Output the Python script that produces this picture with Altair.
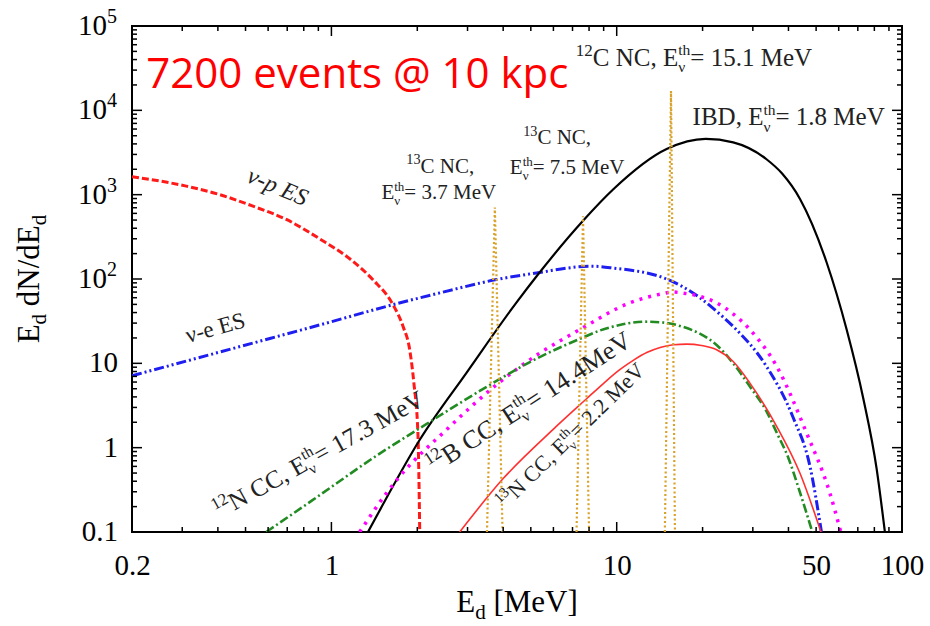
import altair as alt
import pandas as pd

# ---------------- data ----------------
# nu-p elastic scattering (red dashed)
nup_E = [0.2, 0.31, 0.405, 0.531, 0.695, 0.909, 1.19, 1.398, 1.644, 1.782, 1.881, 1.945, 2.01, 2.04]
nup_N = [1632, 1262, 1004, 730, 508, 300, 162, 98, 49.6, 27.5, 14.5, 5.9, 1.48, 0.1]
# nu-e elastic scattering (blue dash-dot-dot)
nue_E = [0.2, 0.531, 0.909, 1.644, 2.397, 3.79, 5.23, 8.2, 9.71, 14.96, 19.56, 22.4, 25.6, 33.5, 41.4, 47.6, 52.2]
nue_N = [7.13, 17.4, 28.5, 49.6, 68.4, 98.4, 118, 142, 135, 100, 60, 41.3, 27.4, 9.18, 2.34, 0.596, 0.1]
# IBD (black solid)
ibd_E = [1.343, 1.476, 2.04, 2.97, 4.45, 5.23, 7.62, 9.71, 14.96, 20.5, 25.6, 33.5, 38.0, 43.9, 54.4, 64.0, 73.2, 81.5, 87.1]
ibd_N = [0.1, 0.18, 1.24, 7.67, 52.5, 107, 490, 1150, 3470, 4580, 4170, 2630, 1780, 890, 158, 25, 3.8, 0.56, 0.1]
# 12B CC (magenta dotted)
mag_E = [1.256, 1.559, 1.734, 2.53, 3.79, 5.37, 7.42, 11.1, 14.2, 15.7, 17.1, 22.4, 29.3, 36.4, 46.3, 55.9, 61.0]
mag_N = [0.1, 0.288, 0.454, 1.63, 5.57, 13.2, 25.1, 52, 66, 70, 68, 52, 25.1, 9.18, 1.49, 0.288, 0.1]
# 12N CC (green dash-dot)
grn_E = [0.591, 0.861, 1.476, 2.04, 3.31, 5.0, 7.42, 8.73, 10.5, 12.5, 14.5, 17.1, 19.56, 22.4, 25.6, 29.3, 33.5, 36.4, 40.0, 43.3, 48.5]
grn_N = [0.1, 0.24, 0.85, 1.7, 4.7, 10.5, 19.5, 24.5, 29.0, 31.2, 30.5, 27.0, 22.5, 16.5, 10.0, 5.3, 2.7, 1.5, 0.75, 0.34, 0.1]
# 13N CC (red solid)
rsol_E = [2.816, 4.0, 5.99, 7.84, 9.0, 10.25, 11.5, 12.8, 14.2, 15.8, 17.6, 19.8, 22.4, 25.6, 29.3, 36.4, 43.9, 52.0]
rsol_N = [0.1, 0.43, 1.65, 3.8, 5.8, 8.4, 11.0, 13.5, 15.4, 16.6, 16.9, 16.3, 14.5, 10.5, 5.83, 1.78, 0.497, 0.1]
# 13C / 12C NC gamma lines (gold dotted)
gA_E = [3.51, 3.74, 3.98]
gA_N = [0.1, 705, 0.1]
gB_E = [7.23, 7.62, 8.0]
gB_N = [0.1, 556, 0.1]
gC_E = [14.75, 15.5, 16.0]
gC_N = [0.1, 16950, 0.1]

# axis ticks and labels
x_tick_values = [0.2, 1, 10, 50, 100]
x_major_ticks = [1, 10]
x_minor_ticks = [0.3, 0.4, 0.5, 0.6, 0.7, 0.8, 0.9, 2, 3, 4, 5, 6, 7, 8, 9, 20, 30, 40, 50, 60, 70, 80, 90]
y_major_ticks = [1, 10, 100, 1000, 10000]
y_minor_ticks = [m * d for d in [0.1, 1, 10, 100, 1000, 10000] for m in range(2, 10)]
y_plain_values = [0.1, 1, 10]
y_plain_labels = ["0.1", "1", "10"]
y_exp_values = [100, 1000, 10000, 100000]
y_exp_powers = ["2", "3", "4", "5"]

# annotations: (E, N, angle, size, style, segments)
annotations = [
    (7.19, 33600, 0, 25, "normal", [("sup", "12"), ("n", "C NC, E"), ("ss", "th", "ν"), ("n", "= 15.1 MeV")]),
    (18.45, 6640, 0, 25, "normal", [("n", "IBD, E"), ("ss", "th", "ν"), ("n", "= 1.8 MeV")]),
    (4.70, 3945, 0, 21, "normal", [("sup", "13"), ("n", "C NC,")]),
    (4.22, 1738, 0, 21, "normal", [("n", "E"), ("ss", "th", "ν"), ("n", "= 7.5 MeV")]),
    (1.83, 1820, 0, 21, "normal", [("sup", "13"), ("n", "C NC,")]),
    (1.497, 877, 0, 21, "normal", [("n", "E"), ("ss", "th", "ν"), ("n", "= 3.7 MeV")]),
    (0.500, 1436, 23, 24, "italic", [("n", "ν-p ES")]),
    (0.314, 17.4, 344.5, 23, "normal", [("n", "ν-e ES")]),
    (0.405, 0.1426, 331, 25, "normal", [("sup", "12"), ("n", "N CC, E"), ("ss", "th", "ν"), ("n", "= 17.3 MeV")]),
    (2.286, 0.483, 327, 26, "normal", [("sup", "12"), ("n", "B CC, E"), ("ss", "th", "ν"), ("n", "= 14.4MeV")]),
    (4.08, 0.1826, 315.5, 22, "normal", [("sup", "13"), ("n", "N CC, E"), ("ss", "th", "ν"), ("n", "= 2.2 MeV")]),
]
headline = "7200 events @ 10 kpc"
headline_pos = (0.2244, 18600)

# ---------------- styling ----------------
W, H = 770, 506
SERIF = "Liberation Serif"
TXT = "#222222"
TW = {" ": 250, ",": 250, "-": 333, ".": 250, "=": 564, "[": 333, "]": 333, "/": 278,
      "B": 667, "C": 667, "D": 722, "E": 611, "I": 333, "M": 889, "N": 722, "S": 556, "V": 722,
      "d": 500, "e": 444, "h": 500, "p": 500, "t": 278, "ν": 500}


def tw(s, size):
    return sum(TW.get(c, 500) for c in s) / 1000.0 * size


xs = alt.Scale(type="log", domain=[0.2, 100], nice=False)
ys = alt.Scale(type="log", domain=[0.1, 100000], nice=False)
x_axis = alt.Axis(values=x_tick_values, format="~g", labelFont=SERIF, labelFontSize=29,
                  labelColor="black", ticks=False, domain=False, grid=False, title=None,
                  labelPadding=19, labelFlush=False)


def X():
    return alt.X("E:Q", scale=xs, axis=x_axis)


def Y():
    return alt.Y("N:Q", scale=ys, axis=None)


layers = []


def line_layer(E, N, color, width, dash=None, interp="monotone"):
    df = pd.DataFrame({"E": E, "N": N, "o": list(range(len(E)))})
    kw = dict(color=color, strokeWidth=width, interpolate=interp, clip=True, strokeCap="butt")
    if dash:
        kw["strokeDash"] = dash
    return alt.Chart(df).mark_line(**kw).encode(x=X(), y=Y(), order="o:Q")


layers.append(line_layer(nup_E, nup_N, "#ff1a1a", 3, [7, 3]))
layers.append(line_layer(nue_E, nue_N, "#1e1ef0", 3, [10, 3, 2, 3, 2, 3]))
layers.append(line_layer(ibd_E, ibd_N, "#000000", 2.2))
layers.append(line_layer(mag_E, mag_N, "#ff00ff", 3.5, [3, 6]))
layers.append(line_layer(grn_E, grn_N, "#228b22", 2.6, [9, 3, 2, 3]))
layers.append(line_layer(rsol_E, rsol_N, "#ff3030", 1.6))
for gE, gN in [(gA_E, gA_N), (gB_E, gB_N), (gC_E, gC_N)]:
    layers.append(line_layer(gE, gN, "#d9a22a", 2.2, [2, 2.5], interp="linear"))

# inward ticks on all four sides
for vals, ln in [(x_major_ticks, 10), (x_minor_ticks, 5)]:
    df = pd.DataFrame({"E": vals})
    layers.append(alt.Chart(df).mark_rule(color="black", strokeWidth=1.5).encode(
        x=X(), y=alt.value(H), y2=alt.value(H - ln)))
    layers.append(alt.Chart(df).mark_rule(color="black", strokeWidth=1.5).encode(
        x=X(), y=alt.value(0), y2=alt.value(ln)))
for vals, ln in [(y_major_ticks, 10), (y_minor_ticks, 5)]:
    df = pd.DataFrame({"N": vals})
    layers.append(alt.Chart(df).mark_rule(color="black", strokeWidth=1.5).encode(
        y=Y(), x=alt.value(0), x2=alt.value(ln)))
    layers.append(alt.Chart(df).mark_rule(color="black", strokeWidth=1.5).encode(
        y=Y(), x=alt.value(W), x2=alt.value(W - ln)))

# y tick labels
layers.append(alt.Chart(pd.DataFrame({"N": y_plain_values, "t": y_plain_labels})).mark_text(
    align="right", baseline="alphabetic", dy=9, font=SERIF, fontSize=29, color="black").encode(
    x=alt.value(-14), y=Y(), text="t:N"))
ydf = pd.DataFrame({"N": y_exp_values, "b": ["10"] * len(y_exp_values), "e": y_exp_powers})
layers.append(alt.Chart(ydf).mark_text(
    align="right", baseline="alphabetic", dy=9, font=SERIF, fontSize=29, color="black").encode(
    x=alt.value(-25), y=Y(), text="b:N"))
layers.append(alt.Chart(ydf).mark_text(
    align="left", baseline="alphabetic", dy=-3, font=SERIF, fontSize=20, color="black").encode(
    x=alt.value(-25), y=Y(), text="e:N"))


def label_layers(anchor, angle, size, segments, color=TXT, font=SERIF, style="normal", pixel=False):
    out = []
    adv = 0.0
    for seg in segments:
        kind = seg[0]
        if kind == "n":
            txt = seg[1].lstrip(" ")
            adv += tw(seg[1][: len(seg[1]) - len(txt)], size)
            pieces = [(txt, size, 0.0)]
            w = tw(txt, size)
        elif kind == "sup":
            s = size * 0.68
            pieces = [(seg[1], s, -0.40 * size)]
            w = tw(seg[1], s)
        elif kind == "sub":
            s = size * 0.68
            pieces = [(seg[1], s, 0.22 * size)]
            w = tw(seg[1], s)
        else:
            s = size * 0.62
            pieces = [(seg[1], s, -0.42 * size), (seg[2], s, 0.25 * size)]
            w = max(tw(seg[1], s), tw(seg[2], s))
        for text, fs, dy in pieces:
            mk = dict(align="left", baseline="alphabetic", dx=round(adv, 2), dy=round(dy, 2),
                      fontSize=round(fs, 2), font=font, color=color, fontStyle=style)
            if angle:
                mk["angle"] = angle % 360
            df = pd.DataFrame({"E": [anchor[0]], "N": [anchor[1]], "t": [text]})
            ch = alt.Chart(df).mark_text(**mk)
            if pixel:
                ch = ch.encode(x=alt.value(anchor[0]), y=alt.value(anchor[1]), text="t:N")
            else:
                ch = ch.encode(x=X(), y=Y(), text="t:N")
            out.append(ch)
        adv += w
    return out


for (e, n, ang, size, style, segs) in annotations:
    layers += label_layers((e, n), ang, size, segs, style=style)

# headline
layers.append(alt.Chart(pd.DataFrame({"E": [headline_pos[0]], "N": [headline_pos[1]], "t": [headline]})).mark_text(
    align="left", baseline="alphabetic", font="Open Sans", fontSize=42, color="#ff0000").encode(
    x=X(), y=Y(), text="t:N"))

# axis titles with subscripts
xt_segs = [("n", "E"), ("sub", "d"), ("n", " [MeV]")]
xt_w = tw("E", 31) + tw("d", 31 * 0.68) + tw(" [MeV]", 31)
layers += label_layers((W / 2 - xt_w / 2, 586), 0, 31, xt_segs, color="black", pixel=True)
yt_segs = [("n", "E"), ("sub", "d"), ("n", " dN/dE"), ("sub", "d")]
yt_w = tw("E", 31) + 2 * tw("d", 31 * 0.68) + tw(" dN/dE", 31)
layers += label_layers((-93, H / 2 + yt_w / 2), 270, 31, yt_segs, color="black", pixel=True)

chart = alt.layer(*layers).properties(
    width=W, height=H,
    padding={"left": 132, "top": 26, "right": 28, "bottom": 94},
    autosize=alt.AutoSizeParams(type="none"),
    background="white",
).configure_view(stroke="black", strokeWidth=2)

chart.save("out.html", embed_options={"renderer": "svg", "actions": False})
